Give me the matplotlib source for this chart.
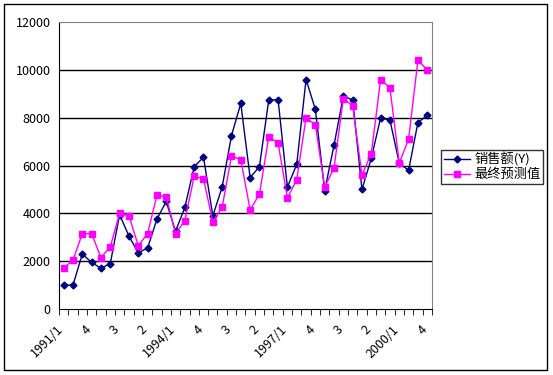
import matplotlib.pyplot as plt
from matplotlib.patches import Rectangle
from matplotlib.transforms import ScaledTranslation
import numpy as np

plt.rcParams['font.family'] = ['Noto Sans CJK SC', 'DejaVu Sans']

# 季度数据 1991/1 - 2000/4
tick_labels = ['1991/1', '4', '3', '2', '1994/1', '4', '3', '2',
               '1997/1', '4', '3', '2', '2000/1', '4']

sales = [1000, 1000, 2300, 1950, 1700, 1900, 3950, 3050, 2350, 2550,
         3750, 4500, 3250, 4250, 5950, 6350, 3900, 5100, 7250, 8600,
         5500, 5950, 8750, 8750, 5100, 6050, 9600, 8350, 4950, 6850,
         8900, 8750, 5000, 6300, 8000, 7900, 6100, 5800, 7800, 8100]

forecast = [1700, 2050, 3150, 3150, 2150, 2600, 4000, 3900, 2650, 3150,
            4750, 4700, 3150, 3700, 5550, 5450, 3650, 4250, 6400, 6250,
            4150, 4800, 7200, 6950, 4650, 5400, 8000, 7700, 5100, 5900,
            8800, 8500, 5600, 6500, 9600, 9250, 6100, 7100, 10400, 10000]

x = np.arange(len(sales))

fig = plt.figure(figsize=(5.53, 3.75), dpi=100)
ax = fig.add_axes([0.1067, 0.176, 0.6743, 0.765])

ax.plot(x, sales, color='#000080', marker='D', markersize=3.5, linewidth=1,
        label='销售额(Y)')
ax.plot(x, forecast, color='#FF00FF', marker='s', markersize=4.5, linewidth=1,
        label='最终预测值')

# Achsen
ax.set_xlim(-0.5, len(sales) - 0.5)
ax.set_ylim(0, 12000)
ax.set_yticks(range(0, 12001, 2000))
ax.tick_params(axis='y', length=0, labelsize=9, pad=6)
for y in range(2000, 12000, 2000):
    ax.axhline(y, color='black', linewidth=1, zorder=0)

ax.set_xticks(x[::3])
ax.set_xticklabels(tick_labels, rotation=45, ha='right', rotation_mode='anchor',
                   fontsize=9)
ax.tick_params(axis='x', which='major', length=0, pad=10)
shift = ScaledTranslation(-7 / 100, 0, fig.dpi_scale_trans)
for lbl in ax.get_xticklabels():
    lbl.set_transform(lbl.get_transform() + shift)
ax.set_xticks(np.arange(-0.5, len(sales), 1), minor=True)
ax.tick_params(axis='x', which='minor', length=4, direction='out', color='black')

ax.spines['left'].set_color('black')
ax.spines['bottom'].set_color('black')
ax.spines['top'].set_color('#808080')
ax.spines['right'].set_color('#808080')

leg = ax.legend(loc='center left', bbox_to_anchor=(0.7975, 0.555),
                bbox_transform=fig.transFigure, frameon=True, fancybox=False,
                edgecolor='black', fontsize=9.5, handlelength=2.0,
                borderpad=0.2, labelspacing=0.1, handletextpad=0.3,
                borderaxespad=0)
leg.get_frame().set_linewidth(1)

# Rahmen um das Diagramm
fig.patches.append(Rectangle((4 / 553, 1 - 370 / 375), 543 / 553, 366 / 375,
                             transform=fig.transFigure, fill=False,
                             edgecolor='black', linewidth=1))

plt.savefig('out.png')
